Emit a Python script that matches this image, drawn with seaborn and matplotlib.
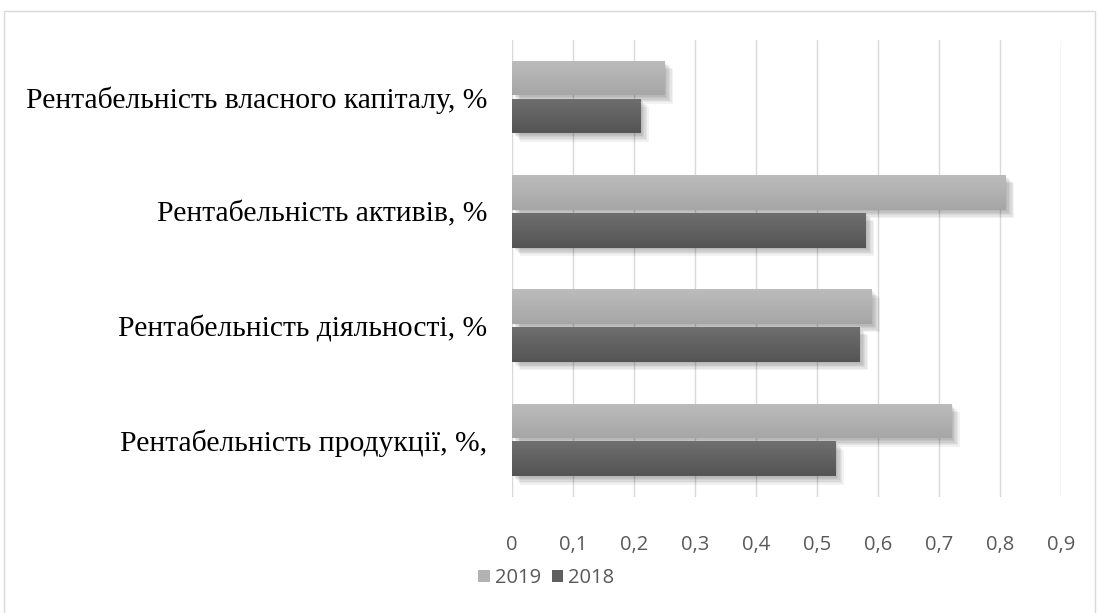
import matplotlib
matplotlib.use("Agg")
import matplotlib.pyplot as plt
import matplotlib.patheffects as pe
from matplotlib.patches import Rectangle, Patch
from matplotlib.colors import LinearSegmentedColormap
import numpy as np
import seaborn as sns
import pandas as pd

categories = [
    "Рентабельність власного капіталу, %",
    "Рентабельність активів, %",
    "Рентабельність діяльності, %",
    "Рентабельність продукції, %,",
]
values_2019 = [0.25, 0.81, 0.59, 0.72]
values_2018 = [0.21, 0.58, 0.57, 0.53]
years = ["2019", "2018"]
xticks = [0, 0.1, 0.2, 0.3, 0.4, 0.5, 0.6, 0.7, 0.8, 0.9]
xtick_labels = ["0", "0,1", "0,2", "0,3", "0,4", "0,5", "0,6", "0,7", "0,8", "0,9"]

df = pd.DataFrame({
    "category": categories * 2,
    "value": values_2019 + values_2018,
    "year": [years[0]] * len(categories) + [years[1]] * len(categories),
})

sns.set_theme(style="white")
fig = plt.figure(figsize=(10.99, 6.13), dpi=100)
ax = fig.add_axes([0.466, 0.189, 0.9654 - 0.466, 0.935 - 0.189])

palette = {"2019": "#b2b2b2", "2018": "#5f5f5f"}
gradients = {"2019": ("#bcbcbc", "#a6a6a6"), "2018": ("#6f6f6f", "#545454")}
sns.barplot(data=df, y="category", x="value", hue="year", hue_order=years,
            order=categories, palette=palette, orient="h", width=0.66, gap=0.08,
            ax=ax, legend=False, saturation=1)

shadow = [pe.SimplePatchShadow(offset=(d, -d), shadow_rgbFace="#000000", alpha=0.05)
          for d in (1, 2, 3, 4, 5, 6)] + [pe.Normal()]

ax.set_xlim(0, 0.9)
ylim = ax.get_ylim()
grad = np.linspace(0, 1, 64).reshape(-1, 1)
n = len(categories)
for i, p in enumerate(list(ax.patches)):
    yr = years[0] if i < n else years[1]
    p.set_path_effects(shadow)
    p.set_edgecolor("none")
    p.set_zorder(3)
    x0, y0 = p.get_x(), p.get_y()
    w, h = p.get_width(), p.get_height()
    cmap = LinearSegmentedColormap.from_list("g" + yr, list(gradients[yr]))
    im = ax.imshow(grad, cmap=cmap, aspect="auto", extent=(x0, x0 + w, y0 + h, y0),
                   origin="upper", zorder=4, interpolation="bilinear")
    im.set_clip_path(p)
ax.set_xlim(0, 0.9)
ax.set_ylim(ylim)

sans = ["Open Sans", "DejaVu Sans"]
ax.set_xticks(xticks)
ax.set_xticklabels(xtick_labels, fontsize=14.5, color="#595959", family=sans)
ax.grid(axis="x", color="#d9d9d9", linewidth=1.0, zorder=0)
ax.set_axisbelow(True)
for s in ax.spines.values():
    s.set_visible(False)
ax.tick_params(axis="x", length=0, pad=27)
ax.tick_params(axis="y", length=0, pad=18)
for lbl in ax.get_yticklabels():
    lbl.set_fontfamily(["Liberation Serif", "DejaVu Serif"])
    lbl.set_fontsize(21.3)
    lbl.set_color("#000000")
ax.set_xlabel("")
ax.set_ylabel("")

handles = [Patch(facecolor=palette[y], edgecolor="none", label=y) for y in years]
fig.legend(handles=handles, loc="center", bbox_to_anchor=(0.497, 0.057), ncol=2,
           frameon=False, prop={"family": sans, "size": 14.5},
           labelcolor="#595959", handlelength=0.55, handleheight=0.55,
           handletextpad=0.25, columnspacing=0.55)

fig.patches.append(Rectangle((4 / 1099, -0.01), 1091 / 1099, 1 - 11 / 613 + 0.01,
                             transform=fig.transFigure, fill=False,
                             edgecolor="#d9d9d9", linewidth=1.0))

fig.savefig("out.png", dpi=100)
